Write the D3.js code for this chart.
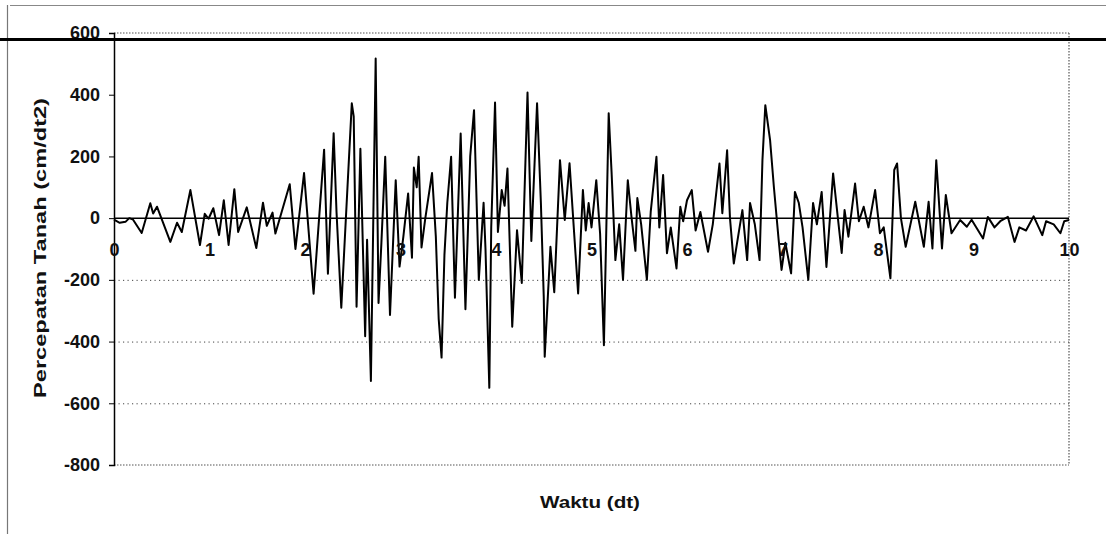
<!DOCTYPE html>
<html>
<head>
<meta charset="utf-8">
<script src="https://cdn.jsdelivr.net/npm/d3@7"></script>
<style>
  html, body { margin: 0; padding: 0; background: #fff; }
  svg { display: block; }
  text { font-family: "Liberation Sans", Arial, sans-serif; font-weight: bold; fill: #111; }
</style>
</head>
<body>
<svg id="chart" width="1106" height="534"></svg>
<script>
// ---- data ----
const timeSec = [
  0.00, 0.06, 0.12, 0.16, 0.20, 0.29, 0.38, 0.41, 0.45, 0.59, 0.66, 0.71, 0.80, 0.90, 0.95, 0.99,
  1.04, 1.10, 1.15, 1.20, 1.26, 1.30, 1.39, 1.49, 1.56, 1.60, 1.66, 1.69, 1.84, 1.90, 1.99,
  2.09, 2.20, 2.24, 2.30, 2.33, 2.38, 2.49, 2.51, 2.54, 2.58, 2.63, 2.65, 2.69, 2.74, 2.77, 2.80,
  2.84, 2.89, 2.95, 2.99, 3.03, 3.08, 3.12, 3.14, 3.17, 3.19, 3.22, 3.26, 3.33, 3.37, 3.40, 3.43,
  3.46, 3.49, 3.53, 3.57, 3.63, 3.68, 3.73, 3.77, 3.82, 3.87, 3.89, 3.93, 3.95, 3.99, 4.02, 4.06,
  4.09, 4.12, 4.17, 4.22, 4.27, 4.33, 4.37, 4.43, 4.47, 4.50, 4.51, 4.57, 4.61, 4.67, 4.72, 4.77,
  4.86, 4.91, 4.94, 4.97, 5.00, 5.05, 5.09, 5.13, 5.18, 5.21, 5.25, 5.29, 5.33, 5.38, 5.42, 5.46,
  5.48, 5.52, 5.58, 5.62, 5.68, 5.71, 5.75, 5.79, 5.83, 5.89, 5.93, 5.96, 6.00, 6.05, 6.09, 6.14,
  6.22, 6.27, 6.34, 6.37, 6.42, 6.45, 6.49, 6.54, 6.58, 6.63, 6.66, 6.71, 6.76, 6.79, 6.82, 6.87,
  6.91, 6.96, 6.99, 7.03, 7.09, 7.13, 7.17, 7.21, 7.27, 7.32, 7.36, 7.41, 7.46, 7.53, 7.58, 7.62,
  7.65, 7.69, 7.76, 7.80, 7.85, 7.90, 7.97, 8.02, 8.06, 8.13, 8.17, 8.20, 8.24, 8.29, 8.39, 8.48,
  8.53, 8.57, 8.61, 8.67, 8.71, 8.77, 8.86, 8.93, 8.98, 9.10, 9.15, 9.22, 9.28, 9.36, 9.43, 9.48,
  9.55, 9.63, 9.72, 9.76, 9.84, 9.91, 9.95, 10.00
];
const accel = [
  -5, -15, -12, 0, -5, -48, 48, 15, 37, -77, -15, -45, 91, -87, 14, -2,
  32, -55, 58, -87, 94, -45, 35, -97, 50, -25, 18, -50, 110, -100, 146,
  -245, 222, -180, 275, 20, -290, 372, 330, -287, 225, -383, -70, -528, 517, -275, -80,
  199, -314, 123, -157, -60, 80, -128, 164, 100, 199, -95, 0, 146, -60, -327, -452,
  -120, 49, 199, -258, 274, -295, 200, 350, -200, 50, -100, -550, -30, 375, -45, 91,
  40, 161, -352, -39, -210, 407, -74, 372, 50, -255, -449, -93, -240, 188, -6, 178,
  -244, 91, -40, 49, -30, 123, -50, -412, 340, 150, -136, -20, -200, 123, 0, -106,
  65, -20, -200, 20, 199, -30, 140, -114, -30, -163, 37, -10, 58, 91, -40, 20,
  -109, -20, 177, 16, 220, 0, -147, -50, 26, -136, 49, -20, -136, 188, 366, 253,
  100, -71, -168, -80, -179, 85, 50, -30, -200, 49, -20, 85, -158, 145, 0, -113,
  26, -60, 112, -10, 37, -30, 91, -49, -30, -195, 156, 177, 0, -93, 53, -93,
  53, -98, 188, -98, 75, -49, -6, -28, -5, -66, 4, -30, -10, 4, -77, -30,
  -40, 6, -55, -10, -20, -49, -10, -6
];
const yTickValues = [600, 400, 200, 0, -200, -400, -600, -800];
const xTickValues = [0, 1, 2, 3, 4, 5, 6, 7, 8, 9, 10];
const gridValues = [-200, -400, -600];
const yTitle = "Percepatan Tanah (cm/dt2)";
const xTitle = "Waktu (dt)";

// ---- drawing ----
const svg = d3.select("#chart");
const x = d3.scaleLinear().domain([0, 10]).range([114, 1069]);
const y = d3.scaleLinear().domain([-800, 600]).range([465, 33]);
const plain = d => String(d);

// scan page edges
svg.append("line").attr("x1", 10).attr("x2", 1106).attr("y1", 5.5).attr("y2", 5.5)
  .attr("stroke", "#888").attr("stroke-width", 1);
svg.append("line").attr("x1", 7.5).attr("x2", 7.5).attr("y1", 5).attr("y2", 534)
  .attr("stroke", "#777").attr("stroke-width", 1.2);

// dotted gridlines
svg.append("g").selectAll("line").data(gridValues).join("line")
  .attr("x1", x(0)).attr("x2", x(10))
  .attr("y1", d => y(d) + 0.5).attr("y2", d => y(d) + 0.5)
  .attr("stroke", "#444").attr("stroke-width", 1).attr("stroke-dasharray", "1.2,3.3");

// plot area border (dotted top/right/bottom)
const border = svg.append("g").attr("stroke", "#555").attr("stroke-width", 1.2)
  .attr("stroke-dasharray", "1.5,1.5").attr("fill", "none");
border.append("line").attr("x1", x(0)).attr("x2", x(10)).attr("y1", y(600)).attr("y2", y(600));
border.append("line").attr("x1", x(0)).attr("x2", x(10)).attr("y1", y(-800)).attr("y2", y(-800));
border.append("line").attr("x1", x(10)).attr("x2", x(10)).attr("y1", y(600)).attr("y2", y(-800));

// y axis
const yAxis = svg.append("g").attr("transform", `translate(${x(0)},0)`)
  .call(d3.axisLeft(y).tickValues(yTickValues).tickSize(5).tickPadding(9).tickFormat(plain));
yAxis.select(".domain").attr("stroke", "#000").attr("stroke-width", 1.5);
yAxis.selectAll(".tick line").attr("stroke", "#000");
yAxis.selectAll("text").style("font-size", "18px").attr("fill", "#111")
  .style("font-family", "'Liberation Sans', Arial, sans-serif").style("font-weight", "bold");

// zero line (category axis)
svg.append("line").attr("x1", x(0)).attr("x2", x(10)).attr("y1", y(0)).attr("y2", y(0))
  .attr("stroke", "#000").attr("stroke-width", 1.5);

// waveform
const pts = timeSec.map((t, i) => [t, accel[i]]);
svg.append("path").datum(pts)
  .attr("fill", "none").attr("stroke", "#000").attr("stroke-width", 2)
  .attr("stroke-linejoin", "round")
  .attr("d", d3.line().x(d => x(d[0])).y(d => y(d[1])));

// x tick labels below zero line
const xAxis = svg.append("g").attr("transform", `translate(0,${y(0)})`)
  .call(d3.axisBottom(x).tickValues(xTickValues).tickSize(0).tickPadding(25).tickFormat(plain));
xAxis.select(".domain").remove();
xAxis.selectAll("text").style("font-size", "18px").attr("fill", "#111")
  .style("font-family", "'Liberation Sans', Arial, sans-serif").style("font-weight", "bold");

// thick scan line across top
svg.append("line").attr("x1", 0).attr("x2", 1106).attr("y1", 39.5).attr("y2", 39.5)
  .attr("stroke", "#000").attr("stroke-width", 3);

// titles
svg.append("text").attr("transform", "translate(46,248) rotate(-90)")
  .attr("text-anchor", "middle").style("font-size", "17px")
  .attr("textLength", 300).attr("lengthAdjust", "spacingAndGlyphs")
  .text(yTitle);
svg.append("text").attr("x", 590).attr("y", 508)
  .attr("text-anchor", "middle").style("font-size", "17px")
  .attr("textLength", 100).attr("lengthAdjust", "spacingAndGlyphs")
  .text(xTitle);
</script>
</body>
</html>
